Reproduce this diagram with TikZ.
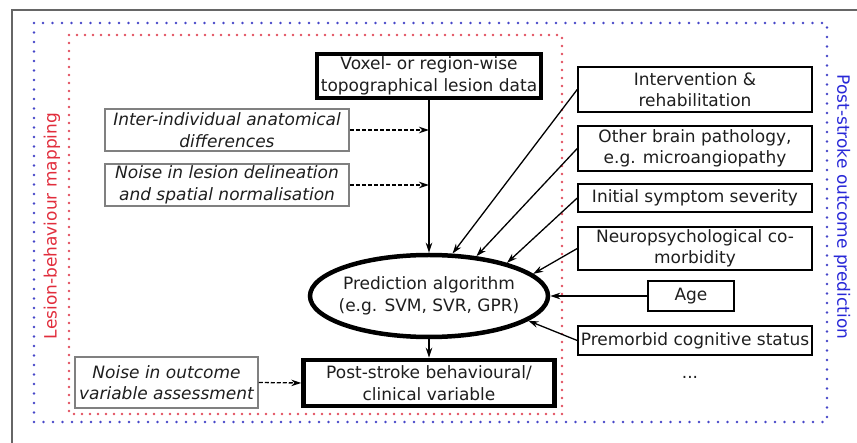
\documentclass[tikz,border=0pt]{standalone}
\usepackage{fontspec}
\setmainfont{DejaVu Sans}
\usetikzlibrary{positioning, arrows.meta, shapes.geometric}
\definecolor{dotblue}{RGB}{70,70,200}
\definecolor{dotred}{RGB}{225,80,95}
\definecolor{labblue}{RGB}{40,40,215}
\definecolor{labred}{RGB}{225,45,60}
\definecolor{txtgray}{RGB}{30,30,30}

\begin{document}
\begin{tikzpicture}[x=1pt, y=-1pt, font=\fontsize{17}{21.5}\selectfont, text=txtgray]
	\tikzset{
		factor/.style={draw, line width=1.5pt, align=center, minimum width=234pt, inner sep=2pt},
		noise/.style={draw=black!50, line width=1.5pt, align=center, inner sep=2pt, font=\fontsize{17}{21.5}\selectfont\itshape},
		core/.style={draw, line width=4.5pt, align=center, inner sep=2pt},
		link/.style={line width=1.3pt, -{Stealth[length=10pt, width=6.5pt]}},
		noiselink/.style={link, dash pattern=on 4pt off 2pt}
	}
	\useasboundingbox (0,0) rectangle (857,443);
	\draw[black!60, line width=1.4pt] (12,443) -- (12,10) -- (857,10);
	
	% dotted frames
	\draw[dotblue, line width=2.6pt, line cap=round, dash pattern=on 0pt off 9.5pt] (34,23) rectangle (827,422);
	\draw[dotred, line width=2.6pt, line cap=round, dash pattern=on 0pt off 8pt] (69,35) rectangle (562,414);
	\node[text=labred, rotate=90] (lbm) at (52,226) {Lesion-behaviour mapping};
	\node[text=labblue, rotate=-90] (pop) at (842,207) {Post-stroke outcome prediction};
	
	% central column
	\node[core, minimum width=224pt, minimum height=44pt] (voxel) at (429,76) {Voxel- or region-wise\\topographical lesion data};
	\node[draw, ellipse, line width=4.5pt, minimum width=238pt, minimum height=82pt] (pred) at (429,296) {};
	\node[align=center] (predtext) at (pred.center) {Prediction algorithm\\(e.g. SVM, SVR, GPR)};
	\node[core, minimum width=251pt, minimum height=46pt] (post) at (429,383) {Post-stroke behavioural/\\clinical variable};
	
	% noise sources
	\node[noise, minimum width=244pt, minimum height=42pt] (inter) at (227,130) {Inter-individual anatomical\\differences};
	\node[noise, minimum width=244pt, minimum height=42pt] (delin) at (227,185) {Noise in lesion delineation\\and spatial normalisation};
	\node[noise, minimum width=183pt, minimum height=51pt] (assess) at (166.5,382.5) {Noise in outcome\\variable assessment};
	
	% further predictors
	\node[factor, minimum height=45pt] (interv) at (695,89.5) {Intervention \&\\rehabilitation};
	\node[factor, minimum height=45pt] (brain) at (695,148.5) {Other brain pathology,\\e.g. microangiopathy};
	\node[factor, minimum height=28pt] (severity) at (695,198) {Initial symptom severity};
	\node[factor, minimum height=43pt] (neuro) at (695,248.5) {Neuropsychological co-\\morbidity};
	\node[factor, minimum width=86pt, minimum height=30pt] (age) at (691,296) {Age};
	\node[factor, minimum height=29pt] (premorbid) at (695,340.5) {Premorbid cognitive status};
	\node (more) at (690,377) {...};
	
	% connectors
	\coordinate (j1) at (inter.east -| voxel.south);
	\coordinate (j2) at (delin.east -| voxel.south);
	\draw[link] (voxel.south) -- (pred.north);
	\draw[link] (pred.south) -- (post.north);
	\draw[noiselink] (inter.east) -- (j1);
	\draw[noiselink] (delin.east) -- (j2);
	\draw[noiselink] (assess.east) -- (post.west);
	\draw[link] (interv.west) -- (pred.61);
	\draw[link] (brain.west) -- (pred.40);
	\draw[link] (severity.west) -- (pred.23);
	\draw[link] (neuro.west) -- (pred.12);
	\draw[link] (age.west) -- (pred.0);
	\draw[link] (premorbid.west) -- (pred.-14);
\end{tikzpicture}
\end{document}
